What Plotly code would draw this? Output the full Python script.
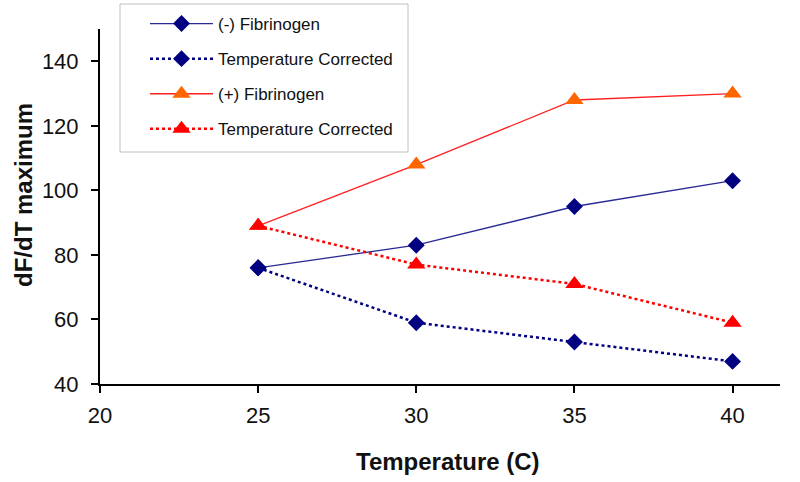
import plotly.graph_objects as go

temps = [25, 30, 35, 40]
neg_fib = [76, 83, 95, 103]
neg_fib_corr = [76, 59, 53, 47]
pos_fib = [89, 108, 128, 130]
pos_fib_corr = [89, 77, 71, 59]
x_ticks = [20, 25, 30, 35, 40]
y_ticks = [40, 60, 80, 100, 120, 140]

fig = go.Figure()
fig.add_trace(go.Scatter(x=temps, y=neg_fib, name="(-) Fibrinogen", mode="lines+markers",
                         line=dict(color="#2a2a96", width=1.3),
                         marker=dict(symbol="diamond", size=13, color="#000080"),
                         legendgroup="a"))
fig.add_trace(go.Scatter(x=temps, y=neg_fib_corr, name="Temperature Corrected", mode="lines+markers",
                         line=dict(color="#000080", width=2.5, dash="dot"),
                         marker=dict(symbol="diamond", size=13, color="#000080"),
                         legendgroup="b"))
fig.add_trace(go.Scatter(x=temps, y=pos_fib, name="(+) Fibrinogen", mode="lines+markers",
                         line=dict(color="#ff2020", width=1.3),
                         marker=dict(symbol="triangle-up", size=16, color="#ff6600"),
                         legendgroup="c"))
fig.add_trace(go.Scatter(x=temps, y=pos_fib_corr, name="Temperature Corrected", mode="lines+markers",
                         line=dict(color="#ff0000", width=2.5, dash="dot"),
                         marker=dict(symbol="triangle-up", size=16, color="#ff0000"),
                         legendgroup="d"))

L, R, T, B = 100, 20, 29, 98
W, H = 800, 482
pw, ph = W - L - R, H - T - B

def px(xs):
    return (xs - L) / pw

def py(ys):
    return (H - B - ys) / ph

# legend frame
fig.add_shape(type="rect", xref="paper", yref="paper",
              x0=px(120), x1=px(408), y0=py(152), y1=py(4),
              line=dict(color="#c0c0c0", width=1), fillcolor="white", layer="below")

fig.add_annotation(text="<b>Temperature (C)</b>", xref="paper", yref="paper",
                   x=px(448), y=py(461), xanchor="center", yanchor="middle",
                   showarrow=False, font=dict(size=24))
fig.add_annotation(text="<b>dF/dT maximum</b>", xref="paper", yref="paper",
                   x=px(23), y=py(195), xanchor="center", yanchor="middle", textangle=-90,
                   showarrow=False, font=dict(size=24))

fig.update_layout(
    width=W, height=H,
    margin=dict(l=L, r=R, t=T, b=B, autoexpand=False),
    plot_bgcolor="white", paper_bgcolor="white",
    font=dict(family="Liberation Sans, Arial", size=22, color="#111"),
    legend=dict(x=px(145), y=py(6), xanchor="left", yanchor="top",
                bgcolor="rgba(0,0,0,0)", borderwidth=0,
                font=dict(size=17), itemwidth=63, tracegroupgap=10,
                traceorder="grouped"),
    xaxis=dict(range=[20, 41.5], tickvals=x_ticks, showline=True, linecolor="black", linewidth=2,
               ticks="outside", ticklen=7, tickwidth=2, tickcolor="black", showgrid=False,
               zeroline=False, automargin=False, ticklabelstandoff=4),
    yaxis=dict(range=[40, 150], tickvals=y_ticks, showline=True, linecolor="black", linewidth=2,
               ticks="outside", ticklen=7, tickwidth=2, tickcolor="black", showgrid=False,
               zeroline=False, automargin=False, ticklabelstandoff=8),
)

fig.write_html("out.html", config={"displayModeBar": False},
               post_script="document.body.style.margin='0';")
